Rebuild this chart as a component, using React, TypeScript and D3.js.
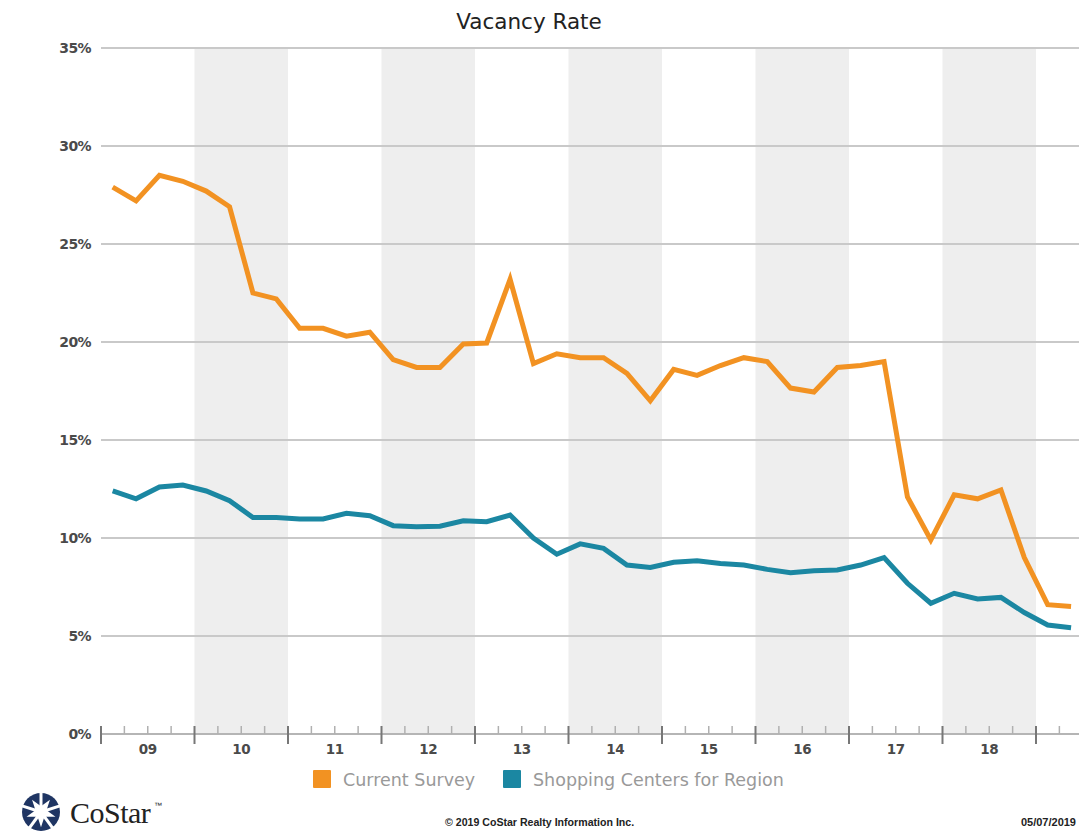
import React from 'react';
import * as d3 from 'd3';

// quarterly values, 2009 Q1 .. 2019 Q2
const currentSurvey = [
  27.9, 27.2, 28.5, 28.2, 27.7, 26.9, 22.5, 22.2, 20.7, 20.7,
  20.3, 20.5, 19.1, 18.7, 18.7, 19.9, 19.95, 23.2, 18.9, 19.4,
  19.2, 19.2, 18.4, 17.0, 18.6, 18.3, 18.8, 19.2, 19.0, 17.65,
  17.45, 18.7, 18.8, 19.0, 12.1, 9.9, 12.2, 12.0, 12.45, 9.0,
  6.6, 6.5,
];
const shoppingCenters = [
  12.4, 12.0, 12.6, 12.7, 12.4, 11.9, 11.05, 11.05, 10.97, 10.97,
  11.26, 11.14, 10.63, 10.58, 10.6, 10.88, 10.83, 11.17, 10.0, 9.17,
  9.7, 9.47, 8.62, 8.5, 8.76, 8.84, 8.7, 8.62, 8.4, 8.23,
  8.33, 8.37, 8.62, 9.0, 7.69, 6.67, 7.18, 6.89, 6.97, 6.2,
  5.56, 5.42,
];
const startYear = 2009;
const yearLabels = ['09', '10', '11', '12', '13', '14', '15', '16', '17', '18'];
const shadedYears = [2010, 2012, 2014, 2016, 2018];
const yTicks = [0, 5, 10, 15, 20, 25, 30, 35];

const W = 1079, H = 831;
const ORANGE = '#F29222';
const BLUE = '#1B87A2';

const App = () => {
  const x = d3.scaleLinear().domain([2009, 2020]).range([101, 101 + 93.5 * 11]);
  const y = d3.scaleLinear().domain([0, 35]).range([734, 48]);
  const plotRight = W;
  const axisY = y(0);

  const line = d3.line<number>()
    .x((d, i) => x(startYear + (i + 0.5) / 4))
    .y(d => y(d));

  const yearTicks = d3.range(2009, 2020);
  const quarterTicks = d3.range(0, 42).map(i => startYear + i / 4).filter(v => v % 1 !== 0);

  // logo pieces
  const logoC = [41, 812];
  const starPath = d3.symbol().type(d3.symbolStar).size(260)();

  return (
    <svg width={W} height={H} style={{ position: 'absolute', left: 0, top: 0, background: '#fff' }}>
      <text x={529} y={29} textAnchor="middle" fontFamily="DejaVu Sans" fontSize={21.5} fill="#222">
        Vacancy Rate
      </text>

      {/* shaded year bands */}
      {shadedYears.map(yr => (
        <rect key={yr} x={x(yr)} y={y(35)} width={x(yr + 1) - x(yr)} height={axisY - y(35)} fill="#EEEEEE" />
      ))}

      {/* gridlines */}
      {yTicks.filter(t => t > 0).map(t => (
        <line key={t} x1={x(2009)} x2={plotRight} y1={y(t)} y2={y(t)} stroke="#C9C9C9" strokeWidth={2} />
      ))}

      {/* y labels */}
      {yTicks.map(t => (
        <text key={t} x={91} y={y(t) + 5} textAnchor="end" fontFamily="DejaVu Sans" fontWeight="bold"
          fontSize={14} fill="#4a4a4a" letterSpacing={-0.6}>
          {t}%
        </text>
      ))}

      {/* x axis */}
      <line x1={x(2009)} x2={plotRight} y1={axisY} y2={axisY} stroke="#B5B5B5" strokeWidth={2} />
      {quarterTicks.map(q => (
        <line key={q} x1={x(q)} x2={x(q)} y1={axisY - 8} y2={axisY} stroke="#B0B0B0" strokeWidth={1.5} />
      ))}
      {yearTicks.map(yr => (
        <line key={yr} x1={x(yr)} x2={x(yr)} y1={axisY - 8} y2={axisY + 10} stroke="#777" strokeWidth={2} />
      ))}
      {yearLabels.map((lab, i) => (
        <text key={lab} x={x(startYear + i + 0.5)} y={axisY + 20} textAnchor="middle" fontFamily="DejaVu Sans"
          fontWeight="bold" fontSize={13.5} fill="#4a4a4a" letterSpacing={-0.5}>
          {lab}
        </text>
      ))}

      {/* series */}
      <path d={line(currentSurvey) || ''} fill="none" stroke={ORANGE} strokeWidth={5} strokeLinejoin="miter" />
      <path d={line(shoppingCenters) || ''} fill="none" stroke={BLUE} strokeWidth={5} strokeLinejoin="miter" />

      {/* legend */}
      <rect x={313} y={770} width={18} height={18} fill={ORANGE} rx={1} />
      <text x={343} y={786} fontFamily="DejaVu Sans" fontSize={17.5} fill="#999">Current Survey</text>
      <rect x={503} y={770} width={18} height={18} fill={BLUE} rx={1} />
      <text x={533} y={786} fontFamily="DejaVu Sans" fontSize={17.5} fill="#999">Shopping Centers for Region</text>

      {/* logo */}
      <g transform={`translate(${logoC[0]},${logoC[1]})`}>
        <circle r={19} fill="#1F3563" />
        <path d={starPath || ''} fill="#fff" transform="rotate(36)" />
        {d3.range(5).map(i => {
          const a = (i * 72) * Math.PI / 180 - Math.PI / 2;
          return <line key={i} x1={0} y1={0} x2={24 * Math.cos(a)} y2={24 * Math.sin(a)} stroke="#fff" strokeWidth={3} />;
        })}
      </g>
      <text x={70} y={823} fontFamily="Liberation Serif, Times New Roman" fontSize={30} fill="#222" letterSpacing={-0.5}>
        CoStar
      </text>
      <text x={154} y={808} fontFamily="Liberation Sans" fontSize={8} fill="#222">™</text>

      <text x={445} y={826} fontFamily="Liberation Sans, Arial" fontWeight="bold" fontSize={10.6} fill="#222">
        © 2019 CoStar Realty Information Inc.
      </text>
      <text x={1076} y={826} textAnchor="end" fontFamily="Liberation Sans, Arial" fontWeight="bold" fontSize={11} fill="#222">
        05/07/2019
      </text>
    </svg>
  );
};

export default App;
